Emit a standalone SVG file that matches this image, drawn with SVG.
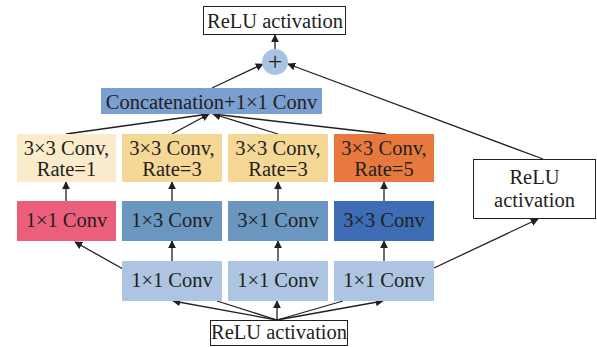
<svg xmlns="http://www.w3.org/2000/svg" width="597" height="347" viewBox="0 0 597 347">
  <style>
    text { font-family: "Liberation Serif", "Times New Roman", serif; font-size: 20.5px; fill: #231f20; text-anchor: middle; dominant-baseline: central; }
    .box { stroke: none; }
    .outline { fill: #ffffff; stroke: #231f20; stroke-width: 1; }
    .edge { fill: none; stroke: #231f20; stroke-width: 1.3; }
  </style>
  <defs>
    <marker id="arrow" viewBox="0 0 10 10" refX="9" refY="5" markerWidth="8" markerHeight="8" markerUnits="userSpaceOnUse" orient="auto">
      <path d="M0,0 L10,5 L0,10 Z" fill="#231f20"/>
    </marker>
  </defs>
  <rect width="597" height="347" fill="#ffffff"/>

  <!-- connectors -->
  <g id="connectors">
    <!-- input fan-out -->
    <line class="edge" x1="277" y1="320" x2="173" y2="301" marker-end="url(#arrow)"/>
    <line class="edge" x1="277" y1="320" x2="217" y2="301"/>
    <line class="edge" x1="277" y1="320" x2="277" y2="301" marker-end="url(#arrow)"/>
    <line class="edge" x1="277" y1="320" x2="343" y2="301"/>
    <line class="edge" x1="277" y1="320" x2="383" y2="301" marker-end="url(#arrow)"/>
    <!-- 1x1 to branch convs -->
    <line class="edge" x1="123" y1="269" x2="75" y2="242" marker-end="url(#arrow)"/>
    <line class="edge" x1="172" y1="261" x2="172" y2="241" marker-end="url(#arrow)"/>
    <line class="edge" x1="278" y1="261" x2="278" y2="241" marker-end="url(#arrow)"/>
    <line class="edge" x1="384" y1="261" x2="384" y2="241" marker-end="url(#arrow)"/>
    <line class="edge" x1="434" y1="268" x2="538" y2="219" marker-end="url(#arrow)"/>
    <!-- branch convs to dilated convs -->
    <line class="edge" x1="66" y1="201" x2="66" y2="182" marker-end="url(#arrow)"/>
    <line class="edge" x1="172" y1="201" x2="172" y2="182" marker-end="url(#arrow)"/>
    <line class="edge" x1="278" y1="201" x2="278" y2="182" marker-end="url(#arrow)"/>
    <line class="edge" x1="384" y1="201" x2="384" y2="182" marker-end="url(#arrow)"/>
    <!-- dilated convs to concatenation -->
    <line class="edge" x1="66" y1="134" x2="209" y2="114" marker-end="url(#arrow)"/>
    <line class="edge" x1="172" y1="134" x2="209" y2="114" marker-end="url(#arrow)"/>
    <line class="edge" x1="278" y1="134" x2="213" y2="114" marker-end="url(#arrow)"/>
    <line class="edge" x1="386" y1="134" x2="213" y2="114" marker-end="url(#arrow)"/>
    <!-- to sum -->
    <line class="edge" x1="212" y1="88" x2="263" y2="64" marker-end="url(#arrow)"/>
    <line class="edge" x1="543" y1="159" x2="288" y2="64" marker-end="url(#arrow)"/>
    <line class="edge" x1="275" y1="49" x2="275" y2="35" marker-end="url(#arrow)"/>
  </g>

  <g id="relu-out">
    <rect class="outline" x="203.5" y="6.5" width="142" height="28"/>
    <text x="275" y="21">ReLU activation</text>
  </g>

  <g id="sum">
    <circle cx="275" cy="62" r="13" fill="#a9c4e3"/>
    <text x="275" y="61" style="font-size:26px">+</text>
  </g>

  <g id="concat">
    <rect class="box" x="101" y="88" width="221" height="26" fill="#7a9fd0" stroke="#4f74a8" stroke-width="1"/>
    <text x="211.5" y="101.5">Concatenation+1×1 Conv</text>
  </g>

  <g id="dilated-1">
    <rect class="box" x="17" y="134" width="99" height="48" fill="#faebcb"/>
    <text x="66.5" y="148">3×3 Conv,</text>
    <text x="66.5" y="169">Rate=1</text>
  </g>
  <g id="dilated-3a">
    <rect class="box" x="122" y="134" width="100" height="48" fill="#f5d796"/>
    <text x="172" y="148">3×3 Conv,</text>
    <text x="172" y="169">Rate=3</text>
  </g>
  <g id="dilated-3b">
    <rect class="box" x="228" y="134" width="100" height="48" fill="#f5d796"/>
    <text x="278" y="148">3×3 Conv,</text>
    <text x="278" y="169">Rate=3</text>
  </g>
  <g id="dilated-5">
    <rect class="box" x="334" y="134" width="100" height="48" fill="#e8793e"/>
    <text x="384" y="148">3×3 Conv,</text>
    <text x="384" y="169">Rate=5</text>
  </g>

  <g id="conv-1x1-branch">
    <rect class="box" x="17" y="201" width="99" height="40" fill="#ec5f7c"/>
    <text x="66.5" y="220">1×1 Conv</text>
  </g>
  <g id="conv-1x3">
    <rect class="box" x="122" y="201" width="100" height="40" fill="#6a96c0"/>
    <text x="172" y="220">1×3 Conv</text>
  </g>
  <g id="conv-3x1">
    <rect class="box" x="228" y="201" width="100" height="40" fill="#6a96c0"/>
    <text x="278" y="220">3×1 Conv</text>
  </g>
  <g id="conv-3x3">
    <rect class="box" x="334" y="201" width="100" height="40" fill="#3e6db5"/>
    <text x="384" y="220">3×3 Conv</text>
  </g>

  <g id="reduce-a">
    <rect class="box" x="122" y="261" width="100" height="40" fill="#adc5e0"/>
    <text x="172" y="280">1×1 Conv</text>
  </g>
  <g id="reduce-b">
    <rect class="box" x="228" y="261" width="100" height="40" fill="#adc5e0"/>
    <text x="278" y="280">1×1 Conv</text>
  </g>
  <g id="reduce-c">
    <rect class="box" x="334" y="261" width="100" height="40" fill="#adc5e0"/>
    <text x="384" y="280">1×1 Conv</text>
  </g>

  <g id="relu-shortcut">
    <rect class="outline" x="473.5" y="159.5" width="122" height="59"/>
    <text x="534.5" y="177">ReLU</text>
    <text x="534.5" y="200">activation</text>
  </g>

  <g id="relu-in">
    <rect class="outline" x="210.5" y="320.5" width="137" height="25"/>
    <text x="279" y="332">ReLU activation</text>
  </g>
</svg>
